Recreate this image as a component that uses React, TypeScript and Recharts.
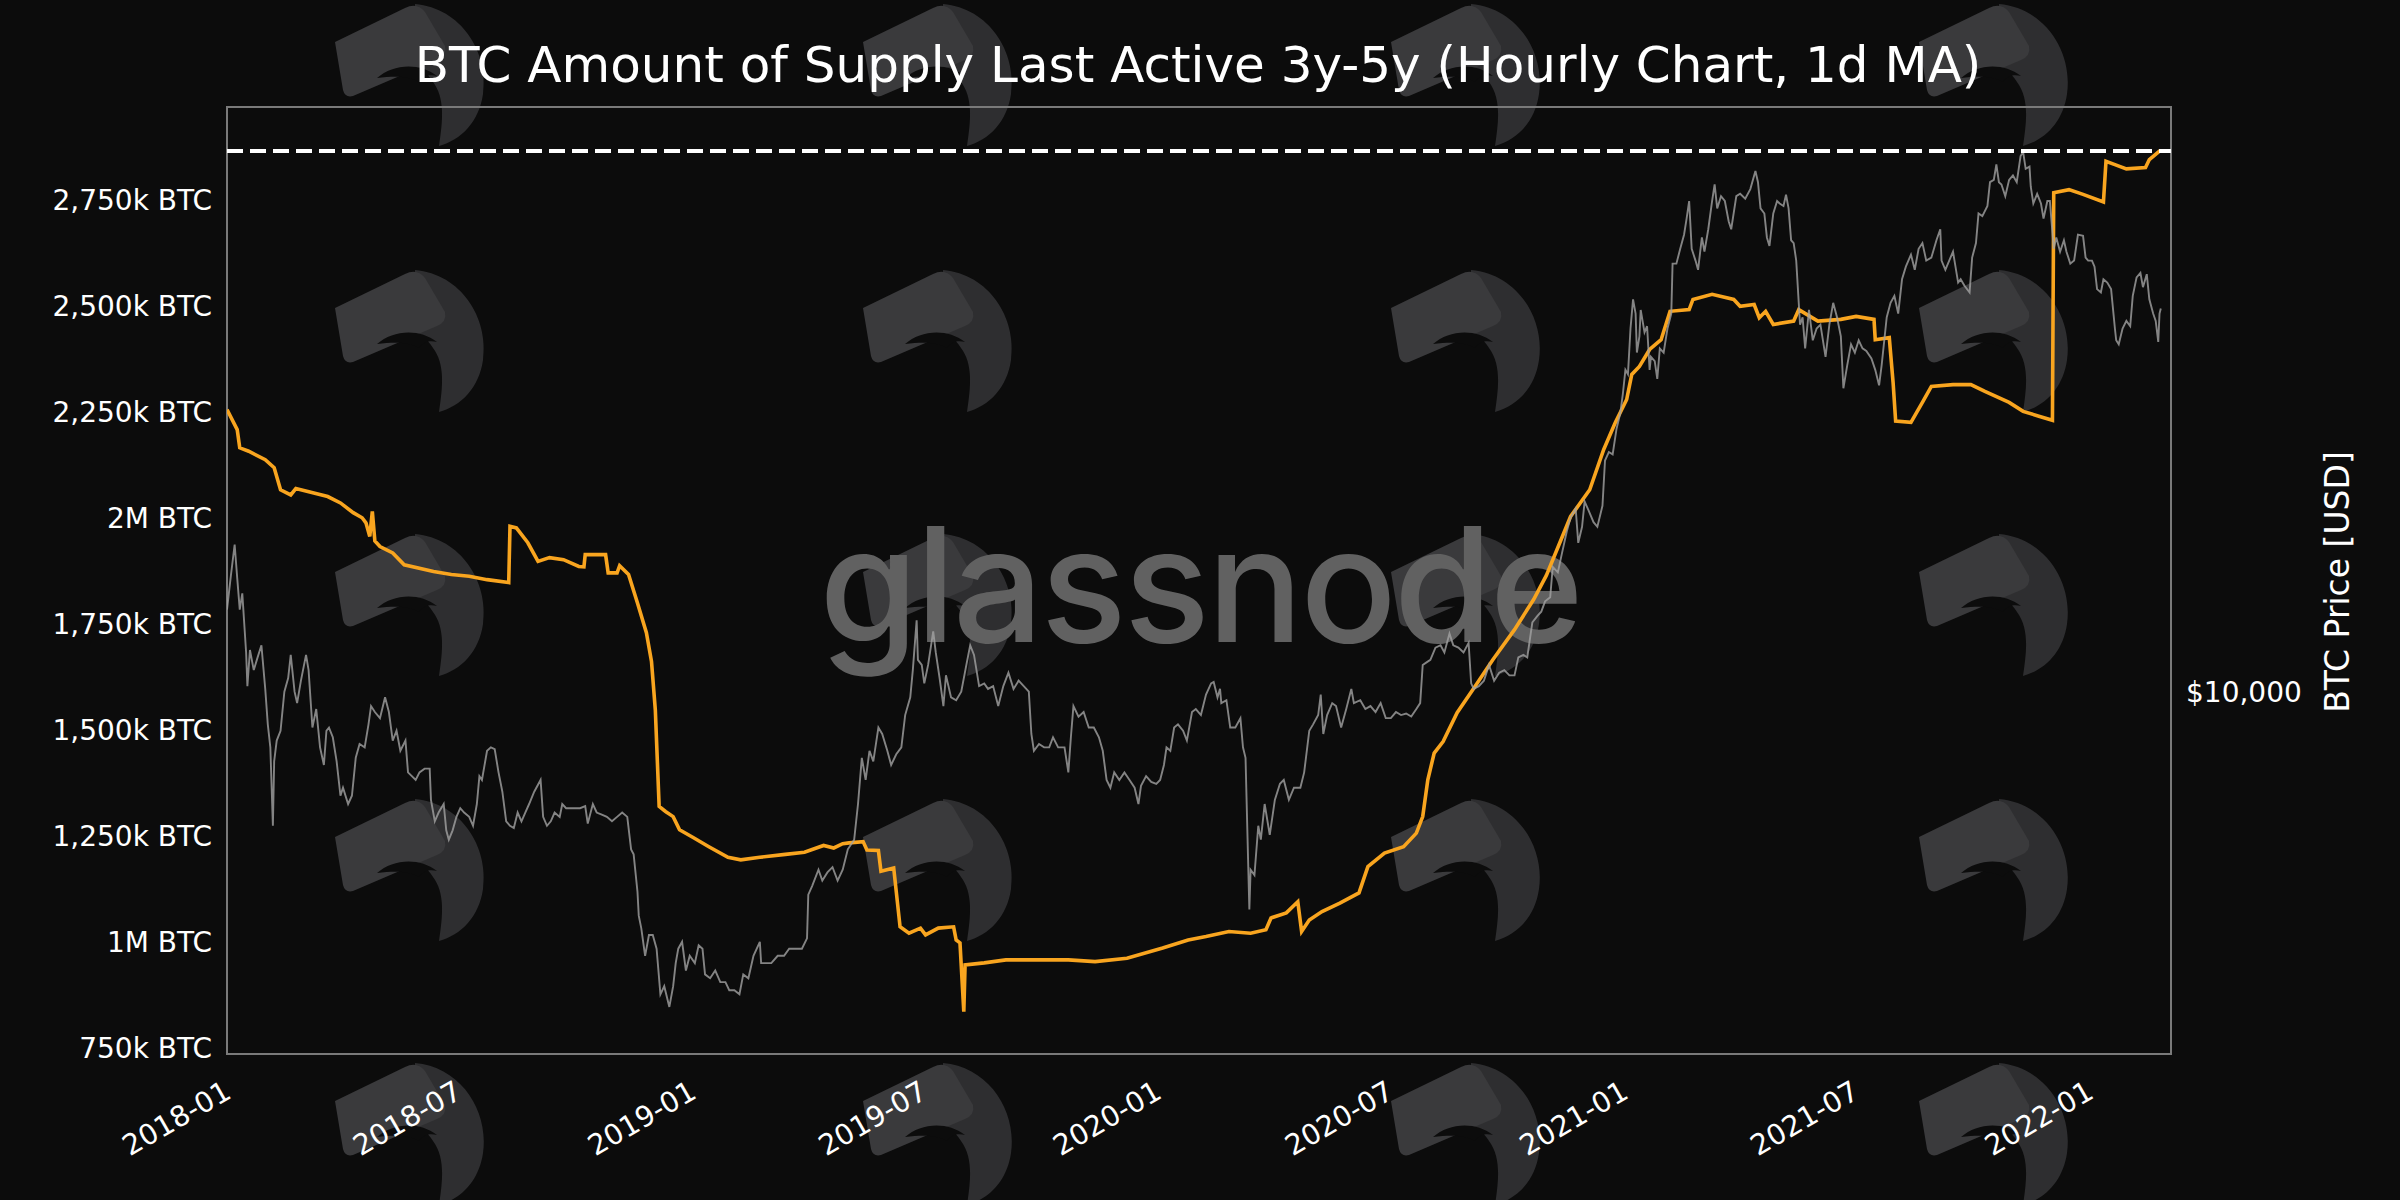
import React from 'react';
import { ComposedChart, Line, XAxis, YAxis, ReferenceLine, ReferenceArea } from 'recharts';

// ---------- DATA ----------
const chartTitle = 'BTC Amount of Supply Last Active 3y-5y (Hourly Chart, 1d MA)';
const priceAxisTitle = 'BTC Price [USD]';
const watermarkText = 'glassnode';

const xTickLabels = ['2018-01', '2018-07', '2019-01', '2019-07', '2020-01', '2020-07', '2021-01', '2021-07', '2022-01'];
const xDomainDates = ['2018-01-01', '2022-03-06'];
const supplyTicks = [750, 1000, 1250, 1500, 1750, 2000, 2250, 2500, 2750];
const supplyDomain = [736, 2970];
const priceTicks = [10000];
const priceDomain = [2748, 80400];

// Supply last active 3y-5y, in thousands of BTC
const supply2018: [string, number][] = [
  ['2018-01-01', 2256], ['2018-01-09', 2209], ['2018-01-11', 2166], ['2018-01-18', 2158], ['2018-01-31', 2138],
  ['2018-02-07', 2119], ['2018-02-12', 2067], ['2018-02-20', 2055], ['2018-02-24', 2070], ['2018-03-21', 2051],
  ['2018-03-31', 2036], ['2018-04-10', 2013], ['2018-04-17', 2001], ['2018-04-20', 1989], ['2018-04-23', 1957],
  ['2018-04-25', 2016], ['2018-04-27', 1946], ['2018-05-01', 1933], ['2018-05-11', 1918], ['2018-05-20', 1890],
  ['2018-06-12', 1874], ['2018-06-26', 1867], ['2018-07-10', 1863], ['2018-07-24', 1855], ['2018-08-10', 1848],
  ['2018-08-11', 1981], ['2018-08-16', 1977], ['2018-08-25', 1942], ['2018-09-02', 1898], ['2018-09-11', 1907],
  ['2018-09-22', 1902], ['2018-10-04', 1886], ['2018-10-08', 1885], ['2018-10-09', 1914], ['2018-10-25', 1914],
  ['2018-10-27', 1871], ['2018-11-03', 1871], ['2018-11-05', 1888], ['2018-11-12', 1867], ['2018-11-19', 1800],
  ['2018-11-26', 1730], ['2018-11-30', 1662], ['2018-12-03', 1548], ['2018-12-06', 1320], ['2018-12-11', 1308],
  ['2018-12-17', 1296], ['2018-12-22', 1265],
];
const supply2019: [string, number][] = [
  ['2019-01-02', 1246], ['2019-01-14', 1225], ['2019-01-29', 1200], ['2019-02-08', 1194], ['2019-02-23', 1200],
  ['2019-03-15', 1207], ['2019-03-30', 1212], ['2019-04-14', 1228], ['2019-04-22', 1222], ['2019-04-29', 1232],
  ['2019-05-04', 1234], ['2019-05-15', 1237], ['2019-05-18', 1217], ['2019-05-27', 1216], ['2019-05-29', 1167],
  ['2019-06-08', 1175], ['2019-06-13', 1036], ['2019-06-20', 1021], ['2019-06-29', 1033], ['2019-07-03', 1017],
  ['2019-07-13', 1033], ['2019-07-25', 1036], ['2019-07-27', 1005], ['2019-07-30', 998], ['2019-08-02', 836],
  ['2019-08-03', 946], ['2019-08-18', 951], ['2019-09-04', 958], ['2019-09-29', 958], ['2019-10-23', 958],
  ['2019-11-13', 954], ['2019-12-08', 962],
];
const supply2020: [string, number][] = [
  ['2020-01-05', 986], ['2020-01-25', 1005], ['2020-02-08', 1013], ['2020-02-26', 1025], ['2020-03-14', 1021],
  ['2020-03-26', 1029], ['2020-03-30', 1057], ['2020-04-11', 1069], ['2020-04-20', 1095], ['2020-04-23', 1025],
  ['2020-04-29', 1052], ['2020-05-09', 1072], ['2020-05-23', 1092], ['2020-06-07', 1116], ['2020-06-14', 1178],
  ['2020-06-27', 1210], ['2020-07-12', 1225], ['2020-07-22', 1257], ['2020-07-27', 1296], ['2020-07-31', 1383],
  ['2020-08-05', 1446], ['2020-08-12', 1473], ['2020-08-23', 1541], ['2020-09-06', 1603], ['2020-09-20', 1666],
  ['2020-10-07', 1737], ['2020-10-22', 1808], ['2020-11-01', 1865], ['2020-11-20', 2004], ['2020-12-05', 2067],
  ['2020-12-16', 2162], ['2020-12-25', 2225],
];
const supply2021: [string, number][] = [
  ['2021-01-03', 2280], ['2021-01-07', 2339], ['2021-01-13', 2358], ['2021-01-21', 2398], ['2021-01-30', 2421],
  ['2021-02-06', 2488], ['2021-02-21', 2492], ['2021-02-24', 2516], ['2021-03-11', 2528], ['2021-03-28', 2516],
  ['2021-04-02', 2500], ['2021-04-13', 2504], ['2021-04-17', 2473], ['2021-04-22', 2488], ['2021-04-28', 2457],
  ['2021-05-14', 2465], ['2021-05-18', 2492], ['2021-06-02', 2465], ['2021-06-20', 2469], ['2021-07-02', 2476],
  ['2021-07-16', 2469], ['2021-07-17', 2421], ['2021-07-28', 2426], ['2021-07-31', 2320], ['2021-08-02', 2229],
  ['2021-08-14', 2226], ['2021-08-23', 2273], ['2021-08-30', 2311], ['2021-09-16', 2315], ['2021-09-30', 2315],
  ['2021-10-11', 2299], ['2021-10-30', 2273], ['2021-11-10', 2252], ['2021-11-23', 2240], ['2021-12-03', 2231],
  ['2021-12-04', 2768], ['2021-12-16', 2775], ['2021-12-27', 2764],
];
const supply2022: [string, number][] = [
  ['2022-01-12', 2746], ['2022-01-14', 2842], ['2022-01-21', 2834], ['2022-01-30', 2824], ['2022-02-14', 2827],
  ['2022-02-17', 2846], ['2022-02-25', 2866], ['2022-02-26', 2866],
];

// BTC price, USD
const price2018: [string, number][] = [
  ['2018-01-01', 13400], ['2018-01-04', 15100], ['2018-01-07', 16900], ['2018-01-09', 15000], ['2018-01-11', 13400],
  ['2018-01-13', 14200], ['2018-01-16', 11500], ['2018-01-17', 10200], ['2018-01-19', 11600], ['2018-01-22', 10800],
  ['2018-01-25', 11300], ['2018-01-28', 11800], ['2018-01-31', 10100], ['2018-02-02', 8900], ['2018-02-04', 8200],
  ['2018-02-06', 6200], ['2018-02-07', 7800], ['2018-02-09', 8400], ['2018-02-12', 8700], ['2018-02-15', 10000],
  ['2018-02-18', 10500], ['2018-02-20', 11400], ['2018-02-23', 10000], ['2018-02-25', 9600], ['2018-02-28', 10400],
  ['2018-03-04', 11400], ['2018-03-06', 10800], ['2018-03-09', 8800], ['2018-03-12', 9400], ['2018-03-15', 8200],
  ['2018-03-18', 7700], ['2018-03-20', 8700], ['2018-03-22', 8800], ['2018-03-25', 8500], ['2018-03-28', 7800],
  ['2018-03-31', 6900], ['2018-04-02', 7100], ['2018-04-06', 6700], ['2018-04-09', 6900], ['2018-04-12', 7900],
  ['2018-04-15', 8300], ['2018-04-19', 8200], ['2018-04-22', 8900], ['2018-04-24', 9500], ['2018-04-27', 9300],
  ['2018-05-01', 9100], ['2018-05-05', 9800], ['2018-05-08', 9300], ['2018-05-11', 8400], ['2018-05-14', 8700],
  ['2018-05-17', 8100], ['2018-05-21', 8400], ['2018-05-23', 7500], ['2018-05-26', 7400], ['2018-05-29', 7300],
  ['2018-06-01', 7500], ['2018-06-05', 7600], ['2018-06-09', 7600], ['2018-06-10', 6800], ['2018-06-13', 6300],
  ['2018-06-16', 6500], ['2018-06-20', 6700], ['2018-06-22', 6100], ['2018-06-24', 5900], ['2018-06-27', 6100],
  ['2018-06-30', 6400], ['2018-07-03', 6600], ['2018-07-06', 6500], ['2018-07-10', 6400], ['2018-07-13', 6200],
  ['2018-07-16', 6700], ['2018-07-18', 7400], ['2018-07-20', 7300], ['2018-07-24', 8100], ['2018-07-27', 8200],
  ['2018-07-30', 8150], ['2018-08-02', 7500], ['2018-08-05', 7000], ['2018-08-08', 6300], ['2018-08-11', 6200],
  ['2018-08-14', 6150], ['2018-08-17', 6500], ['2018-08-20', 6300], ['2018-08-23', 6500], ['2018-08-26', 6700],
  ['2018-08-30', 7000], ['2018-09-04', 7300], ['2018-09-06', 6400], ['2018-09-09', 6200], ['2018-09-12', 6300],
  ['2018-09-15', 6500], ['2018-09-19', 6400], ['2018-09-21', 6700], ['2018-09-24', 6600], ['2018-09-28', 6600],
  ['2018-10-01', 6600], ['2018-10-05', 6600], ['2018-10-09', 6650], ['2018-10-11', 6250], ['2018-10-15', 6700],
  ['2018-10-18', 6500], ['2018-10-22', 6450], ['2018-10-26', 6400], ['2018-10-30', 6300], ['2018-11-03', 6400],
  ['2018-11-07', 6500], ['2018-11-11', 6400], ['2018-11-14', 5700], ['2018-11-16', 5600], ['2018-11-19', 4900],
  ['2018-11-20', 4500], ['2018-11-22', 4300], ['2018-11-25', 3900], ['2018-11-28', 4200], ['2018-12-01', 4200],
  ['2018-12-04', 4000], ['2018-12-07', 3400], ['2018-12-10', 3500], ['2018-12-14', 3250], ['2018-12-17', 3500],
  ['2018-12-19', 3800], ['2018-12-21', 4000], ['2018-12-24', 4100], ['2018-12-27', 3700], ['2018-12-30', 3900],
];
const price2019: [string, number][] = [
  ['2019-01-03', 3800], ['2019-01-06', 4050], ['2019-01-09', 4000], ['2019-01-11', 3650], ['2019-01-15', 3600],
  ['2019-01-19', 3700], ['2019-01-23', 3550], ['2019-01-27', 3550], ['2019-01-30', 3450], ['2019-02-03', 3450],
  ['2019-02-07', 3400], ['2019-02-10', 3650], ['2019-02-14', 3600], ['2019-02-18', 3900], ['2019-02-23', 4100],
  ['2019-02-24', 3800], ['2019-02-28', 3800], ['2019-03-04', 3800], ['2019-03-09', 3900], ['2019-03-14', 3900],
  ['2019-03-18', 4000], ['2019-03-23', 4000], ['2019-03-28', 4000], ['2019-04-01', 4150], ['2019-04-02', 4850],
  ['2019-04-05', 5000], ['2019-04-10', 5300], ['2019-04-13', 5100], ['2019-04-17', 5250], ['2019-04-21', 5350],
  ['2019-04-25', 5100], ['2019-04-29', 5300], ['2019-05-03', 5700], ['2019-05-08', 5900], ['2019-05-11', 6700],
  ['2019-05-14', 7900], ['2019-05-17', 7300], ['2019-05-20', 8100], ['2019-05-23', 7800], ['2019-05-27', 8800],
  ['2019-05-30', 8600], ['2019-06-03', 8100], ['2019-06-06', 7700], ['2019-06-10', 8000], ['2019-06-14', 8200],
  ['2019-06-17', 9200], ['2019-06-21', 9800], ['2019-06-23', 10800], ['2019-06-26', 12900], ['2019-06-27', 11200],
  ['2019-06-30', 11000], ['2019-07-02', 10300], ['2019-07-05', 11000], ['2019-07-09', 12400], ['2019-07-11', 11500],
  ['2019-07-14', 10500], ['2019-07-17', 9500], ['2019-07-19', 10600], ['2019-07-23', 9800], ['2019-07-27', 9700],
  ['2019-07-31', 10000], ['2019-08-04', 11000], ['2019-08-07', 11800], ['2019-08-10', 11400], ['2019-08-14', 10200],
  ['2019-08-18', 10300], ['2019-08-21', 10100], ['2019-08-25', 10200], ['2019-08-29', 9500], ['2019-09-02', 10200],
  ['2019-09-06', 10700], ['2019-09-10', 10100], ['2019-09-14', 10400], ['2019-09-18', 10200], ['2019-09-22', 10000],
  ['2019-09-24', 8600], ['2019-09-26', 8100], ['2019-09-30', 8300], ['2019-10-04', 8200], ['2019-10-08', 8200],
  ['2019-10-11', 8500], ['2019-10-15', 8200], ['2019-10-20', 8200], ['2019-10-23', 7500], ['2019-10-25', 8500],
  ['2019-10-27', 9500], ['2019-10-31', 9150], ['2019-11-04', 9300], ['2019-11-08', 8800], ['2019-11-12', 8800],
  ['2019-11-16', 8500], ['2019-11-19', 8100], ['2019-11-22', 7300], ['2019-11-25', 7100], ['2019-11-28', 7500],
  ['2019-12-02', 7300], ['2019-12-06', 7500], ['2019-12-10', 7300], ['2019-12-14', 7100], ['2019-12-17', 6700],
  ['2019-12-19', 7150], ['2019-12-23', 7400], ['2019-12-27', 7250], ['2019-12-31', 7200],
];
const price2020: [string, number][] = [
  ['2020-01-03', 7300], ['2020-01-06', 7700], ['2020-01-08', 8200], ['2020-01-11', 8100], ['2020-01-14', 8800],
  ['2020-01-17', 8900], ['2020-01-21', 8700], ['2020-01-24', 8400], ['2020-01-28', 9300], ['2020-01-31', 9400],
  ['2020-02-04', 9200], ['2020-02-08', 9900], ['2020-02-12', 10300], ['2020-02-14', 10350], ['2020-02-17', 9800],
  ['2020-02-19', 10100], ['2020-02-20', 9600], ['2020-02-24', 9700], ['2020-02-27', 8800], ['2020-03-02', 8800],
  ['2020-03-06', 9100], ['2020-03-08', 8200], ['2020-03-10', 7900], ['2020-03-12', 5500], ['2020-03-13', 4600],
  ['2020-03-14', 5300], ['2020-03-17', 5200], ['2020-03-20', 6200], ['2020-03-22', 5900], ['2020-03-25', 6700],
  ['2020-03-29', 6000], ['2020-04-02', 6800], ['2020-04-06', 7200], ['2020-04-09', 7300], ['2020-04-13', 6800],
  ['2020-04-17', 7100], ['2020-04-22', 7100], ['2020-04-25', 7500], ['2020-04-29', 8700], ['2020-05-02', 8900],
  ['2020-05-06', 9200], ['2020-05-08', 9900], ['2020-05-10', 8600], ['2020-05-13', 9200], ['2020-05-17', 9600],
  ['2020-05-20', 9500], ['2020-05-24', 8800], ['2020-05-28', 9400], ['2020-06-01', 10100], ['2020-06-03', 9600],
  ['2020-06-08', 9700], ['2020-06-12', 9400], ['2020-06-16', 9500], ['2020-06-20', 9300], ['2020-06-24', 9600],
  ['2020-06-28', 9100], ['2020-07-02', 9100], ['2020-07-06', 9300], ['2020-07-10', 9200], ['2020-07-14', 9250],
  ['2020-07-18', 9150], ['2020-07-22', 9400], ['2020-07-25', 9600], ['2020-07-27', 11000], ['2020-07-30', 11100],
  ['2020-08-02', 11200], ['2020-08-06', 11700], ['2020-08-10', 11800], ['2020-08-13', 11500], ['2020-08-17', 12300],
  ['2020-08-20', 11800], ['2020-08-24', 11700], ['2020-08-28', 11500], ['2020-09-01', 11900], ['2020-09-03', 10300],
  ['2020-09-05', 10100], ['2020-09-09', 10200], ['2020-09-13', 10400], ['2020-09-17', 11000], ['2020-09-21', 10400],
  ['2020-09-25', 10700], ['2020-09-29', 10800], ['2020-10-03', 10600], ['2020-10-07', 10600], ['2020-10-10', 11300],
  ['2020-10-14', 11400], ['2020-10-17', 11300], ['2020-10-21', 12800], ['2020-10-25', 13100], ['2020-10-28', 13300],
  ['2020-10-31', 13800], ['2020-11-04', 14000], ['2020-11-06', 15600], ['2020-11-10', 15300], ['2020-11-13', 16300],
  ['2020-11-17', 17700], ['2020-11-20', 18600], ['2020-11-24', 19200], ['2020-11-26', 17000], ['2020-11-29', 18000],
  ['2020-12-01', 19700], ['2020-12-04', 19100], ['2020-12-08', 18300], ['2020-12-11', 18000], ['2020-12-15', 19400],
  ['2020-12-17', 22800], ['2020-12-20', 23500], ['2020-12-23', 23300], ['2020-12-26', 25500], ['2020-12-29', 27000],
  ['2020-12-31', 28900],
];
const price2021: [string, number][] = [
  ['2021-01-02', 31500], ['2021-01-04', 31000], ['2021-01-06', 36500], ['2021-01-08', 40500], ['2021-01-10', 38500],
  ['2021-01-11', 33500], ['2021-01-13', 35500], ['2021-01-14', 39000], ['2021-01-17', 36000], ['2021-01-19', 36800],
  ['2021-01-21', 31500], ['2021-01-22', 33000], ['2021-01-25', 32500], ['2021-01-27', 30500], ['2021-01-29', 34000],
  ['2021-02-01', 33500], ['2021-02-04', 36500], ['2021-02-07', 38500], ['2021-02-08', 46000], ['2021-02-11', 46000],
  ['2021-02-14', 48500], ['2021-02-17', 51000], ['2021-02-19', 54000], ['2021-02-21', 57500], ['2021-02-23', 48500],
  ['2021-02-26', 46500], ['2021-02-28', 45000], ['2021-03-03', 50500], ['2021-03-05', 48000], ['2021-03-08', 52000],
  ['2021-03-11', 57500], ['2021-03-13', 61000], ['2021-03-15', 56000], ['2021-03-18', 58500], ['2021-03-21', 57500],
  ['2021-03-24', 53500], ['2021-03-26', 52000], ['2021-03-30', 58500], ['2021-04-02', 59000], ['2021-04-06', 58000],
  ['2021-04-10', 60000], ['2021-04-14', 64000], ['2021-04-16', 61500], ['2021-04-18', 56000], ['2021-04-21', 55000],
  ['2021-04-23', 50500], ['2021-04-25', 49000], ['2021-04-28', 55000], ['2021-05-01', 57500], ['2021-05-03', 57000],
  ['2021-05-06', 56500], ['2021-05-08', 58800], ['2021-05-10', 56000], ['2021-05-12', 50000], ['2021-05-14', 49500],
  ['2021-05-16', 46500], ['2021-05-19', 37000], ['2021-05-21', 38000], ['2021-05-23', 34000], ['2021-05-26', 39000],
  ['2021-05-29', 35000], ['2021-06-01', 36500], ['2021-06-04', 37000], ['2021-06-08', 33000], ['2021-06-11', 37000],
  ['2021-06-14', 40000], ['2021-06-17', 38000], ['2021-06-20', 35500], ['2021-06-22', 29500], ['2021-06-25', 32000],
  ['2021-06-28', 34500], ['2021-07-01', 33500], ['2021-07-04', 35000], ['2021-07-07', 34000], ['2021-07-10', 33700],
  ['2021-07-14', 32800], ['2021-07-17', 31500], ['2021-07-20', 29800], ['2021-07-22', 32000], ['2021-07-26', 38000],
  ['2021-07-29', 40000], ['2021-08-01', 41000], ['2021-08-04', 38500], ['2021-08-07', 43500], ['2021-08-10', 45500],
  ['2021-08-14', 47500], ['2021-08-17', 45000], ['2021-08-20', 48500], ['2021-08-23', 49500], ['2021-08-26', 46500],
  ['2021-08-30', 47000], ['2021-09-03', 50000], ['2021-09-06', 52000], ['2021-09-07', 46500], ['2021-09-10', 45000],
  ['2021-09-14', 47000], ['2021-09-16', 48000], ['2021-09-20', 43000], ['2021-09-22', 43500], ['2021-09-25', 42500],
  ['2021-09-29', 41500], ['2021-10-01', 47000], ['2021-10-04', 49500], ['2021-10-06', 55000], ['2021-10-09', 54500],
  ['2021-10-13', 56500], ['2021-10-15', 61500], ['2021-10-18', 62000], ['2021-10-20', 65500], ['2021-10-22', 61500],
  ['2021-10-24', 61000], ['2021-10-27', 58500], ['2021-10-30', 62000], ['2021-11-02', 63000], ['2021-11-05', 61500],
  ['2021-11-08', 67500], ['2021-11-10', 68500], ['2021-11-12', 64500], ['2021-11-15', 65000], ['2021-11-16', 60500],
  ['2021-11-18', 57000], ['2021-11-21', 59000], ['2021-11-24', 57000], ['2021-11-26', 54000], ['2021-11-29', 57500],
  ['2021-12-01', 57500], ['2021-12-04', 48500], ['2021-12-06', 50500], ['2021-12-09', 48000], ['2021-12-12', 50000],
  ['2021-12-14', 48000], ['2021-12-17', 46000], ['2021-12-20', 46500], ['2021-12-23', 51000], ['2021-12-27', 50800],
  ['2021-12-29', 47000], ['2021-12-31', 46500],
];
const price2022: [string, number][] = [
  ['2022-01-03', 46500], ['2022-01-05', 45500], ['2022-01-07', 42000], ['2022-01-10', 41500], ['2022-01-12', 43500],
  ['2022-01-15', 43000], ['2022-01-18', 42000], ['2022-01-21', 36500], ['2022-01-22', 35000], ['2022-01-24', 34500],
  ['2022-01-27', 36500], ['2022-01-30', 37500], ['2022-02-02', 36800], ['2022-02-04', 41000], ['2022-02-07', 43800],
  ['2022-02-10', 44500], ['2022-02-12', 42300], ['2022-02-15', 44300], ['2022-02-17', 40500], ['2022-02-20', 38500],
  ['2022-02-22', 37500], ['2022-02-24', 34800], ['2022-02-25', 38500], ['2022-02-26', 39200],
];

// ---------- HELPERS ----------
const toT = (d: string) => Date.UTC(+d.slice(0, 4), +d.slice(5, 7) - 1, +d.slice(8, 10) || 1);

const supplyData = [...supply2018, ...supply2019, ...supply2020, ...supply2021, ...supply2022].map(([d, v]) => ({ t: toT(d), v }));
const priceData = [...price2018, ...price2019, ...price2020, ...price2021, ...price2022].map(([d, p]) => ({ t: toT(d), p }));
const supplyMax = Math.max(...supplyData.map((d) => d.v));
const xTicks = xTickLabels.map((l) => toT(l + '-01'));
const xDomain = xDomainDates.map(toT);

const FONT = 'DejaVu Sans';
const BG = '#0c0c0c';

const fmtSupply = (v: number) => (v % 1000 === 0 ? `${v / 1000}M BTC` : `${v.toLocaleString('en-US')}k BTC`);
const fmtPrice = (v: number) => `$${v.toLocaleString('en-US')}`;

const XTick = (props: any) => {
  const { x, y, payload } = props;
  const label = new Date(payload.value).toISOString().slice(0, 7);
  const ax = x + 6;
  const ay = y + 43;
  return (
    <text x={ax} y={ay} transform={`rotate(-30 ${ax} ${ay})`} textAnchor="end" fill="#ffffff" fontSize={28.5} fontFamily={FONT}>
      {label}
    </text>
  );
};

// decorative tiled logo watermark
const logoCols = [333, 861, 1389, 1917];
const logoRows = [2, 268, 532, 797, 1061];

const Logo = ({ x, y }: { x: number; y: number }) => (
  <g transform={`translate(${x} ${y})`}>
    <path d="M82,2 C128,6 156,50 150,92 C146,120 128,138 106,144 C110,118 112,96 100,80 C94,70 86,66 78,66 Z" fill="#2e2e30" />
    <path d="M2,40 L72,6 Q84,0 92,10 L112,44 Q114,54 104,58 L20,94 Q12,96 10,88 Z" fill="#3a3a3c" />
    <path d="M44,76 C60,62 86,60 104,74 C96,72 90,74 86,80 C76,74 62,74 44,76 Z" fill="#0c0c0c" />
  </g>
);

export default function App() {
  return (
    <div style={{ position: 'absolute', left: 0, top: 0, width: 2400, height: 1200, background: BG, overflow: 'hidden' }}>
      <svg width={2400} height={1200} style={{ position: 'absolute', left: 0, top: 0 }}>
        {logoRows.map((ry) => logoCols.map((cx) => <Logo key={`${cx}-${ry}`} x={cx} y={ry} />))}
        <text x={1200} y={642} textAnchor="middle" fontSize={160} fontFamily="Inter" fontWeight={500} fill="#616161" letterSpacing={-3}>
          {watermarkText}
        </text>
        <text x={1198} y={82} textAnchor="middle" fontSize={50} fontFamily={FONT} fill="#ffffff">
          {chartTitle}
        </text>
        <text x={2349} y={582} transform="rotate(-90 2349 582)" textAnchor="middle" fontSize={33} fontFamily={FONT} fill="#ffffff">
          {priceAxisTitle}
        </text>
      </svg>
      <div style={{ position: 'absolute', left: 0, top: 0 }}>
        <ComposedChart width={2400} height={1200} margin={{ top: 107, right: 29, bottom: 46, left: 27 }}>
          <XAxis
            type="number"
            dataKey="t"
            domain={xDomain}
            ticks={xTicks}
            allowDataOverflow
            interval={0}
            tickLine={false}
            axisLine={false}
            tickSize={0}
            tickMargin={0}
            height={100}
            tick={<XTick />}
          />
          <YAxis
            yAxisId="left"
            orientation="left"
            type="number"
            domain={supplyDomain}
            ticks={supplyTicks}
            allowDataOverflow
            interval={0}
            width={200}
            tickLine={false}
            axisLine={false}
            tickSize={0}
            tickMargin={15}
            tickFormatter={fmtSupply}
            tick={{ fill: '#ffffff', fontSize: 28, fontFamily: FONT }}
          />
          <YAxis
            yAxisId="right"
            orientation="right"
            type="number"
            scale="log"
            domain={priceDomain}
            ticks={priceTicks}
            allowDataOverflow
            interval={0}
            width={200}
            tickLine={false}
            axisLine={false}
            tickSize={0}
            tickMargin={15}
            tickFormatter={fmtPrice}
            tick={{ fill: '#ffffff', fontSize: 28, fontFamily: FONT }}
          />
          <ReferenceArea
            yAxisId="left"
            x1={xDomain[0]}
            x2={xDomain[1]}
            y1={supplyDomain[0]}
            y2={supplyDomain[1]}
            fill="none"
            fillOpacity={0}
            stroke="#7a7a7a"
            strokeWidth={2}
            ifOverflow="visible"
          />
          <Line
            yAxisId="left"
            data={supplyData}
            dataKey="v"
            type="linear"
            stroke="#f9a51f"
            strokeWidth={3.6}
            dot={false}
            activeDot={false}
            isAnimationActive={false}
          />
          <Line
            yAxisId="right"
            data={priceData}
            dataKey="p"
            type="linear"
            stroke="#a2a2a2"
            strokeOpacity={0.8}
            strokeWidth={1.9}
            dot={false}
            activeDot={false}
            isAnimationActive={false}
          />
          <ReferenceLine yAxisId="left" y={supplyMax} stroke="#ffffff" strokeWidth={4} strokeDasharray="16 7" ifOverflow="visible" />
        </ComposedChart>
      </div>
    </div>
  );
}
